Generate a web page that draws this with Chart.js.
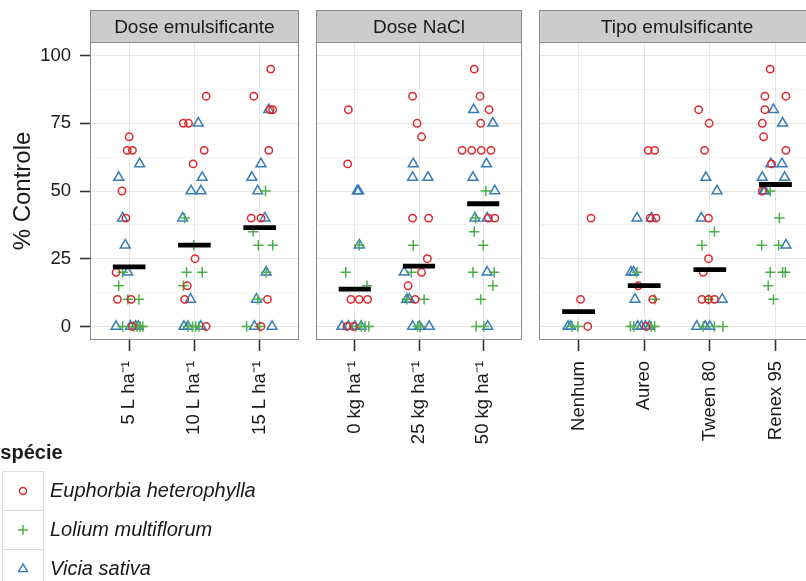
<!DOCTYPE html>
<html>
<head>
<meta charset="utf-8">
<script src="https://cdn.jsdelivr.net/npm/chart.js@4/dist/chart.umd.min.js"></script>
<style>
  html, body { margin: 0; padding: 0; background: #fff; }
  body { width: 806px; height: 581px; overflow: hidden; position: relative;
         font-family: "Liberation Sans", Arial, sans-serif; color: #1a1a1a; }
  canvas { position: absolute; top: 0; }
  .leg-title { position: absolute; left: -13px; top: 441px; font-size: 20px; font-weight: bold; }
  .leg-row { position: absolute; left: 0; height: 39px; width: 320px; }
  .leg-key { position: absolute; left: 2px; top: 0; width: 40px; height: 38px; border: 1px solid #dcdcdc; background: #fff; }
  .leg-key svg { display: block; }
  .leg-text { position: absolute; left: 50px; top: 0; line-height: 39px; font-size: 20px; font-style: italic; white-space: nowrap; }
</style>
</head>
<body>
<canvas id="panelDose" width="306" height="460" style="left:0px"></canvas>
<canvas id="panelNacl" width="220" height="460" style="left:309px"></canvas>
<canvas id="panelTipo" width="290" height="460" style="left:532px"></canvas>
<div id="legend"></div>

<script>
// ---- species ----
const speciesNames = ['Euphorbia heterophylla', 'Lolium multiflorum', 'Vicia sativa'];

// ---- y axis ----
const yLabelTicks = [0, 25, 50, 75, 100];
const yGridLines = [0, 12.5, 25, 37.5, 50, 62.5, 75, 87.5, 100];

// ---- facet 1: emulsifier dose ----
// each point: [category (1-based), jitter, % control]
const doseCats = ['5 L ha\u207B\u00B9', '10 L ha\u207B\u00B9', '15 L ha\u207B\u00B9'];
const doseEuphorbia = [
  [1, 0.00, 70], [1, -0.03, 65], [1, 0.05, 65], [1, -0.11, 50], [1, -0.05, 40], [1, -0.20, 20], [1, -0.18, 10], [1, 0.03, 10], [1, 0.05, 0],
  [2, 0.18, 85], [2, -0.17, 75], [2, -0.09, 75], [2, 0.15, 65], [2, -0.02, 60], [2, 0.01, 25], [2, -0.11, 15], [2, -0.15, 10], [2, 0.18, 0],
  [3, 0.17, 95], [3, -0.09, 85], [3, 0.16, 80], [3, 0.20, 80], [3, 0.14, 65], [3, -0.13, 40], [3, 0.02, 40], [3, 0.12, 10], [3, 0.02, 0]
];
const doseLolium = [
  [1, -0.10, 20], [1, -0.16, 15], [1, -0.02, 10], [1, 0.15, 10], [1, -0.10, 0], [1, 0.07, 0], [1, 0.12, 0], [1, 0.17, 0], [1, 0.21, 0],
  [2, -0.15, 40], [2, -0.01, 30], [2, -0.12, 20], [2, 0.12, 20], [2, -0.17, 15], [2, -0.10, 0], [2, -0.03, 0], [2, 0.02, 0], [2, 0.07, 0],
  [3, 0.09, 50], [3, -0.10, 35], [3, -0.02, 30], [3, 0.20, 30], [3, 0.10, 20], [3, -0.03, 10], [3, -0.20, 0], [3, 0.00, 0]
];
const doseVicia = [
  [1, 0.16, 60], [1, -0.16, 55], [1, -0.10, 40], [1, -0.06, 30], [1, -0.02, 20], [1, -0.20, 0], [1, 0.02, 0], [1, 0.10, 0], [1, 0.14, 0],
  [2, 0.06, 75], [2, 0.12, 55], [2, -0.05, 50], [2, 0.10, 50], [2, -0.18, 40], [2, -0.06, 10], [2, -0.16, 0], [2, -0.10, 0], [2, 0.10, 0],
  [3, 0.14, 80], [3, 0.02, 60], [3, -0.12, 55], [3, -0.03, 50], [3, 0.08, 40], [3, 0.10, 20], [3, -0.05, 10], [3, -0.08, 0], [3, 0.19, 0]
];
const doseMeans = [22, 30, 36.5];

// ---- facet 2: NaCl dose ----
const naclCats = ['0 kg ha\u207B\u00B9', '25 kg ha\u207B\u00B9', '50 kg ha\u207B\u00B9'];
const naclEuphorbia = [
  [1, -0.10, 80], [1, -0.11, 60], [1, -0.06, 10], [1, 0.07, 10], [1, 0.20, 10], [1, -0.12, 0], [1, -0.02, 0],
  [2, -0.10, 85], [2, -0.03, 75], [2, 0.04, 70], [2, -0.10, 40], [2, 0.15, 40], [2, 0.13, 25], [2, 0.04, 20], [2, -0.17, 15], [2, -0.06, 10],
  [3, -0.14, 95], [3, -0.05, 85], [3, 0.09, 80], [3, -0.04, 75], [3, -0.33, 65], [3, -0.18, 65], [3, -0.03, 65], [3, 0.12, 65], [3, 0.08, 40], [3, 0.18, 40]
];
const naclLolium = [
  [1, 0.07, 30], [1, -0.14, 20], [1, 0.19, 15], [1, 0.02, 0], [1, 0.10, 0], [1, 0.16, 0], [1, 0.22, 0],
  [2, -0.09, 30], [2, -0.12, 20], [2, -0.19, 10], [2, 0.08, 10], [2, -0.02, 0], [2, 0.02, 0],
  [3, 0.04, 50], [3, -0.12, 40], [3, -0.14, 35], [3, 0.00, 30], [3, -0.16, 20], [3, 0.17, 20], [3, 0.15, 15], [3, -0.04, 10], [3, -0.11, 0], [3, 0.01, 0]
];
const naclVicia = [
  [1, 0.04, 50], [1, 0.06, 50], [1, 0.07, 30], [1, -0.20, 0], [1, -0.10, 0], [1, 0.00, 0], [1, 0.10, 0],
  [2, -0.09, 60], [2, -0.10, 55], [2, 0.14, 55], [2, -0.23, 20], [2, -0.19, 10], [2, -0.15, 10], [2, -0.10, 0], [2, 0.01, 0], [2, 0.16, 0],
  [3, -0.15, 80], [3, 0.15, 75], [3, 0.05, 60], [3, -0.16, 55], [3, 0.18, 50], [3, -0.13, 40], [3, 0.06, 40], [3, 0.06, 20], [3, 0.07, 0]
];
const naclMeans = [13.8, 22.3, 45.3];

// ---- facet 3: emulsifier type ----
const tipoCats = ['Nenhum', 'Aureo', 'Tween 80', 'Renex 95'];
const tipoEuphorbia = [
  [1, 0.19, 40], [1, 0.03, 10], [1, 0.14, 0],
  [2, 0.06, 65], [2, 0.16, 65], [2, 0.09, 40], [2, 0.18, 40], [2, -0.09, 15], [2, 0.13, 10], [2, 0.03, 0],
  [3, -0.17, 80], [3, -0.01, 75], [3, -0.08, 65], [3, -0.02, 40], [3, -0.02, 25], [3, -0.10, 20], [3, -0.12, 10], [3, -0.02, 10], [3, 0.07, 10],
  [4, -0.08, 95], [4, -0.16, 85], [4, 0.16, 85], [4, -0.16, 80], [4, -0.20, 75], [4, -0.18, 70], [4, 0.16, 65], [4, -0.06, 60], [4, -0.20, 50]
];
const tipoLolium = [
  [1, -0.10, 0], [1, -0.01, 0],
  [2, -0.11, 20], [2, 0.16, 10], [2, -0.21, 0], [2, -0.16, 0], [2, 0.11, 0], [2, 0.16, 0],
  [3, 0.07, 35], [3, -0.12, 30], [3, -0.02, 10], [3, -0.10, 0], [3, 0.07, 0], [3, 0.20, 0],
  [4, -0.08, 50], [4, 0.06, 40], [4, -0.21, 30], [4, 0.05, 30], [4, -0.08, 20], [4, 0.11, 20], [4, 0.15, 20], [4, -0.11, 15], [4, -0.03, 10]
];
const tipoVicia = [
  [1, -0.16, 0], [1, -0.12, 0],
  [2, -0.11, 40], [2, 0.11, 40], [2, -0.20, 20], [2, -0.16, 20], [2, -0.14, 10], [2, -0.10, 0], [2, -0.04, 0], [2, 0.02, 0], [2, 0.08, 0],
  [3, -0.06, 55], [3, 0.11, 50], [3, -0.13, 40], [3, 0.19, 10], [3, -0.20, 0], [3, -0.07, 0], [3, 0.00, 0],
  [4, -0.03, 80], [4, 0.11, 75], [4, -0.07, 60], [4, 0.10, 60], [4, -0.20, 55], [4, 0.14, 55], [4, -0.18, 50], [4, -0.16, 50], [4, 0.16, 30]
];
const tipoMeans = [5.5, 15.1, 21, 52.4];

// ---- styling ----
const INK = '#1a1a1a';
const FONT = '"Liberation Sans", Arial, sans-serif';
const speciesStyle = [
  { pointStyle: 'circle',   radius: 3.7, color: '#DC2A2C' },
  { pointStyle: 'cross',    radius: 5.2, color: '#4DAF4A' },
  { pointStyle: 'triangle', radius: 5.7, color: '#377EB8' }
];

Chart.defaults.font.family = FONT;
Chart.defaults.color = INK;

// strip header above each facet + grey frame round the panel
const facetFrame = {
  id: 'facetFrame',
  afterDraw(chart, args, opts) {
    const { ctx, chartArea: a } = chart;
    const L = Math.round(a.left) + 0.5, R = Math.round(a.right) - 0.5;
    const T = Math.round(a.top) + 0.5, B = Math.round(a.bottom) - 0.5;
    const stripTop = 10.5;
    ctx.save();
    ctx.fillStyle = '#CCCCCC';
    ctx.fillRect(L, stripTop, R - L, T - stripTop);
    ctx.strokeStyle = '#8c8c8c';
    ctx.lineWidth = 1;
    ctx.strokeRect(L, stripTop, R - L, T - stripTop);
    ctx.fillStyle = INK;
    ctx.font = '19px ' + FONT;
    ctx.textAlign = 'center';
    ctx.textBaseline = 'middle';
    ctx.fillText(opts.label, (a.left + a.right) / 2, (stripTop + T) / 2 + 1);
    ctx.strokeStyle = '#8c8c8c';
    ctx.strokeRect(L, T, R - L, B - T);
    ctx.restore();
  }
};

function toPoints(rows) {
  return rows.map(([cat, dx, v]) => ({ x: cat + dx, y: v }));
}

function meanSegments(means) {
  const out = [];
  means.forEach((m, i) => {
    const c = i + 1;
    out.push({ x: c - 0.25, y: m }, { x: c + 0.25, y: m }, { x: c + 0.3, y: null });
  });
  return out;
}

function makePanel(id, label, cats, series, means, first, padding) {
  const datasets = [{
    type: 'line',
    data: meanSegments(means),
    borderColor: '#000',
    borderWidth: 4.8,
    borderCapStyle: 'butt',
    pointRadius: 0,
    spanGaps: false,
    fill: false
  }];
  series.forEach((rows, k) => {
    const s = speciesStyle[k];
    datasets.push({
      label: speciesNames[k],
      data: toPoints(rows),
      pointStyle: s.pointStyle,
      pointRadius: s.radius,
      pointBorderWidth: 1.5,
      borderColor: s.color,
      backgroundColor: 'rgba(0,0,0,0)'
    });
  });

  return new Chart(document.getElementById(id), {
    type: 'scatter',
    data: { datasets },
    options: {
      responsive: false,
      animation: false,
      events: [],
      layout: { padding },
      plugins: {
        legend: { display: false },
        tooltip: { enabled: false },
        facetFrame: { label }
      },
      scales: {
        x: {
          type: 'linear',
          min: 0.4,
          max: cats.length + 0.6,
          afterBuildTicks(scale) { scale.ticks = cats.map((_, i) => ({ value: i + 1 })); },
          afterFit(scale) { scale.height = 120; },
          ticks: {
            autoSkip: false, maxRotation: 90, minRotation: 90, padding: 10,
            font: { size: 18.5 }, color: INK,
            callback: (v) => cats[Math.round(v) - 1]
          },
          grid: { color: '#E5E5E5', lineWidth: 1, drawTicks: true, tickLength: 11, tickColor: '#333', tickWidth: 1.6 },
          border: { display: false }
        },
        y: {
          type: 'linear',
          min: -5,
          max: 105,
          afterBuildTicks(scale) { scale.ticks = yGridLines.map(v => ({ value: v })); },
          afterFit(scale) { scale.width = first ? 90 : 0; },
          ticks: {
            display: first, padding: 9, font: { size: 18.5 }, color: INK,
            callback: (v) => yLabelTicks.includes(v) ? String(v) : ''
          },
          grid: {
            color: (c) => yLabelTicks.includes(c.tick.value) ? '#E5E5E5' : '#F3F3F3',
            lineWidth: 1,
            drawTicks: first,
            tickLength: 10,
            tickColor: (c) => yLabelTicks.includes(c.tick.value) ? '#333' : 'rgba(0,0,0,0)',
            tickWidth: 1.6
          },
          border: { display: false },
          title: { display: first, text: '% Controle', font: { size: 24 }, color: INK, padding: { top: 9, bottom: 0 } }
        }
      }
    },
    plugins: [facetFrame]
  });
}

makePanel('panelDose', 'Dose emulsificante', doseCats, [doseEuphorbia, doseLolium, doseVicia], doseMeans, true,
  { left: 0, right: 3, top: 42, bottom: 0 });
makePanel('panelNacl', 'Dose NaCl', naclCats, [naclEuphorbia, naclLolium, naclVicia], naclMeans, false,
  { left: 3, right: 3, top: 42, bottom: 0 });
makePanel('panelTipo', 'Tipo emulsificante', tipoCats, [tipoEuphorbia, tipoLolium, tipoVicia], tipoMeans, false,
  { left: 3, right: 6, top: 42, bottom: 0 });

// ---- legend ----
function keySymbol(k) {
  const s = speciesStyle[k];
  const cx = 20, cy = 19;
  if (s.pointStyle === 'circle') {
    return `<circle cx="${cx}" cy="${cy}" r="3.5" fill="none" stroke="${s.color}" stroke-width="1.4"/>`;
  }
  if (s.pointStyle === 'cross') {
    return `<path d="M${cx - 5} ${cy}H${cx + 5}M${cx} ${cy - 5}V${cy + 5}" stroke="${s.color}" stroke-width="1.4"/>`;
  }
  const r = 5.2, h = r * Math.sqrt(3) / 2;
  return `<path d="M${cx} ${cy - r}L${cx + h} ${cy + r / 2}L${cx - h} ${cy + r / 2}Z" fill="none" stroke="${s.color}" stroke-width="1.4"/>`;
}

const legend = document.getElementById('legend');
let html = '<div class="leg-title">Esp\u00E9cie</div>';
speciesNames.forEach((name, k) => {
  const top = 471 + k * 39;
  html += `<div class="leg-row" style="top:${top}px">` +
          `<div class="leg-key"><svg width="40" height="38">${keySymbol(k)}</svg></div>` +
          `<div class="leg-text">${name}</div></div>`;
});
legend.innerHTML = html;
</script>
</body>
</html>
